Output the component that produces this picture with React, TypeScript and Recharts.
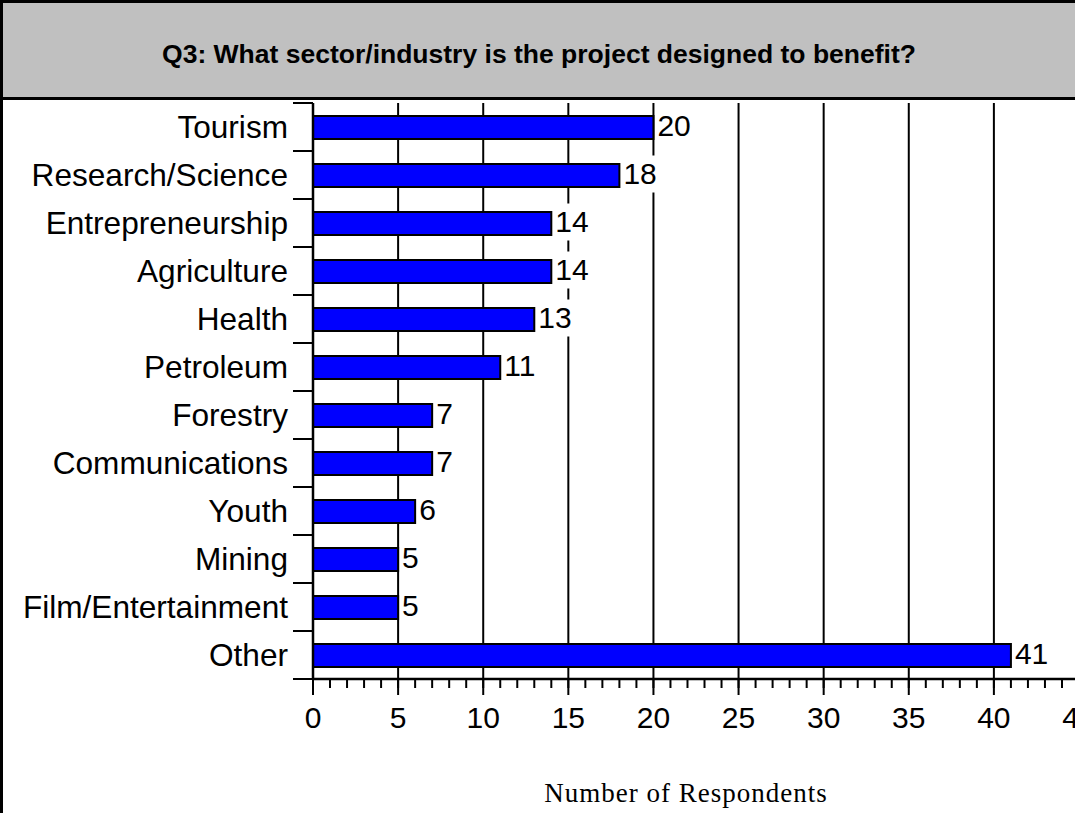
import React from 'react';
import { BarChart, Bar, XAxis, YAxis, CartesianGrid, LabelList } from 'recharts';

const categories = [
  'Tourism',
  'Research/Science',
  'Entrepreneurship',
  'Agriculture',
  'Health',
  'Petroleum',
  'Forestry',
  'Communications',
  'Youth',
  'Mining',
  'Film/Entertainment',
  'Other',
];
const respondents = [20, 18, 14, 14, 13, 11, 7, 7, 6, 5, 5, 41];
const majorTicks = [0, 5, 10, 15, 20, 25, 30, 35, 40, 45];
const minorTicks = [
  0, 1, 2, 3, 4, 5, 6, 7, 8, 9, 10, 11, 12, 13, 14, 15, 16, 17, 18, 19, 20, 21, 22,
  23, 24, 25, 26, 27, 28, 29, 30, 31, 32, 33, 34, 35, 36, 37, 38, 39, 40, 41, 42,
  43, 44, 45,
];
const chartTitle = 'Q3: What sector/industry is the project designed to benefit?';
const axisTitle = 'Number of Respondents';

const data = categories.map((name, i) => ({ name, value: respondents[i] }));

const SANS = "'Liberation Sans', Arial, sans-serif";
const SERIF = "'Liberation Serif', 'Times New Roman', serif";

const ValueLabel = (props: any) => {
  const { x, y, width, height, value } = props;
  const tx = Number(x) + Number(width) + 4;
  const cy = Number(y) + Number(height) / 2 - 2;
  const w = String(value).length * 17 + 2;
  return (
    <g>
      <rect x={tx - 1} y={cy - 18} width={w} height={37} fill="#ffffff" />
      <text
        x={tx}
        y={cy}
        dominantBaseline="central"
        fontSize={30}
        fontFamily={SANS}
        fill="#000"
      >
        {value}
      </text>
    </g>
  );
};

// Category label plus tick marks at the band boundaries (half a band from the label).
const CategoryTick = (props: any) => {
  const { x, y, payload, index, visibleTicksCount } = props;
  const half = Number(payload && payload.offset) || 0;
  const isLast = index === visibleTicksCount - 1;
  return (
    <g>
      <line x1={x - 20} x2={x} y1={y - half} y2={y - half} stroke="#000" strokeWidth={2} />
      {isLast ? (
        <line x1={x - 20} x2={x} y1={y + half} y2={y + half} stroke="#000" strokeWidth={2} />
      ) : null}
      <text
        x={x - 25}
        y={y}
        textAnchor="end"
        dominantBaseline="central"
        fontSize={31.6}
        fontFamily={SANS}
        fill="#000"
      >
        {payload.value}
      </text>
    </g>
  );
};

const NumberTick = (props: any) => {
  const { x, y, payload } = props;
  return (
    <text
      x={x}
      y={y}
      textAnchor="middle"
      fontSize={30}
      fontFamily={SANS}
      fill="#000"
    >
      {payload.value}
    </text>
  );
};

const EmptyTick = () => <g />;

export default function App() {
  return (
    <div
      style={{
        position: 'absolute',
        left: 0,
        top: 0,
        width: 1075,
        height: 813,
        overflow: 'hidden',
        background: '#ffffff',
      }}
    >
      <div style={{ position: 'absolute', left: 0, top: 0 }}>
        <BarChart
          width={1100}
          height={813}
          data={data}
          layout="vertical"
          margin={{ top: 103, right: 21, bottom: 0, left: 0 }}
        >
          <CartesianGrid
            xAxisId={1}
            horizontal={false}
            vertical
            stroke="#000"
            strokeWidth={2}
          />
          <YAxis
            type="category"
            dataKey="name"
            width={313}
            tickSize={0}
            tickMargin={0}
            tickLine={false}
            interval={0}
            axisLine={{ stroke: '#000', strokeWidth: 2.5 }}
            tick={<CategoryTick />}
          />
          <XAxis
            xAxisId={0}
            type="number"
            domain={[0, 45]}
            allowDataOverflow
            ticks={minorTicks}
            interval={0}
            height={1}
            tick={<EmptyTick />}
            tickSize={9}
            axisLine={{ stroke: '#000', strokeWidth: 2.5 }}
            tickLine={{ stroke: '#000', strokeWidth: 2 }}
          />
          <XAxis
            xAxisId={1}
            type="number"
            domain={[0, 45]}
            allowDataOverflow
            ticks={majorTicks}
            interval={0}
            height={133}
            tickSize={15}
            tickMargin={33}
            axisLine={false}
            tickLine={{ stroke: '#000', strokeWidth: 2 }}
            tick={<NumberTick />}
            label={{
              value: axisTitle,
              position: 'insideBottom',
              offset: 11,
              dx: -10,
              fontSize: 27,
              fontFamily: SERIF,
              fill: '#000',
              letterSpacing: 1,
            }}
          />
          <Bar
            xAxisId={1}
            dataKey="value"
            fill="#0000ff"
            stroke="#000"
            strokeWidth={2}
            barSize={23}
            isAnimationActive={false}
          >
            <LabelList dataKey="value" content={<ValueLabel />} />
          </Bar>
        </BarChart>
      </div>
      <div
        style={{
          position: 'absolute',
          left: 0,
          top: 0,
          width: 1072,
          height: 94,
          boxSizing: 'content-box',
          background: '#c0c0c0',
          borderTop: '3px solid #000',
          borderLeft: '3px solid #000',
          borderBottom: '3px solid #000',
          display: 'flex',
          alignItems: 'center',
          justifyContent: 'center',
          fontFamily: SANS,
          fontWeight: 'bold',
          fontSize: 26.5,
          color: '#000',
        }}
      >
        <span style={{ position: 'relative', top: 4 }}>{chartTitle}</span>
      </div>
      <div
        style={{
          position: 'absolute',
          left: 0,
          top: 0,
          width: 3,
          height: 813,
          background: '#000',
        }}
      />
    </div>
  );
}
